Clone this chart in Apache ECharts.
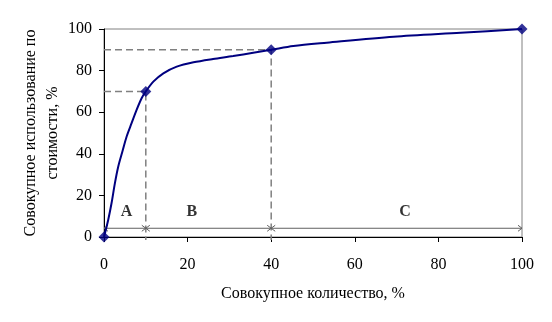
<!DOCTYPE html>
<html>
<head>
<meta charset="utf-8">
<script src="https://cdn.jsdelivr.net/npm/echarts@6/dist/echarts.min.js"></script>
<style>
  html, body { margin: 0; padding: 0; background: #fff; }
  #chart { width: 552px; height: 322px; }
</style>
</head>
<body>
<div id="chart"></div>
<script>
// Cumulative ABC curve traced through intermediate readings
const curveX = [0, 1.0, 1.8, 2.6, 3.4, 4.5, 5.4, 6.6, 7.8, 9.0, 10, 11.8, 14.2, 17.4, 21.4, 26.1, 30.9, 35.7, 40, 45.3, 53.3, 69.3, 85.3, 100];
const curveY = [0, 8.2, 16.2, 25.8, 33.8, 41.8, 48.2, 54.7, 61.1, 66.7, 70, 74.7, 78.7, 81.9, 84.0, 85.6, 87.0, 88.6, 90, 91.8, 93.4, 96.3, 98.2, 100];

// Key points marked on the curve
const keyX = [0, 10, 40, 100];
const keyY = [0, 70, 90, 100];

// Zone boundaries and their names
const zoneEdges = [0, 10, 40, 100];
const zoneNames = ['A', 'B', 'C'];
const zoneLabelX = [5.4, 21, 72];
const zoneLabelY = 11.9;
const zoneArrowY = 4.2;

const axisTicks = [0, 20, 40, 60, 80, 100];

const FONT = '"Liberation Serif", "Times New Roman", serif';
const NAVY = '#000080';
const FS = 16;

// Dashed guides from the axes to the zone boundary points
const guideSeries = [1, 2].map(i => ({
  type: 'line',
  data: [[0, keyY[i]], [keyX[i], keyY[i]], [keyX[i], -1.5]],
  showSymbol: false,
  clip: false,
  silent: true,
  z: 1,
  lineStyle: { color: '#808080', width: 1.5, type: [7, 4] }
}));

// Double-headed arrows spanning each zone
const arrowData = zoneNames.map((n, i) => [zoneEdges[i], zoneEdges[i + 1], zoneArrowY]);

const chart = echarts.init(document.getElementById('chart'), null, { renderer: 'canvas' });
chart.setOption({
  animation: false,
  backgroundColor: '#fff',
  textStyle: { fontFamily: FONT },
  grid: {
    left: 104, right: 30, top: 29, bottom: 85,
    show: true, borderColor: '#808080', borderWidth: 1
  },
  xAxis: {
    type: 'value', min: axisTicks[0], max: axisTicks[axisTicks.length - 1], interval: 20,
    name: 'Совокупное количество, %',
    nameLocation: 'middle', nameGap: 49, nameMoveOverlap: false,
    nameTextStyle: { fontFamily: FONT, fontSize: FS, color: '#000' },
    axisLine: { show: true, lineStyle: { color: '#000', width: 1 } },
    axisTick: { show: true, length: 5, lineStyle: { color: '#000' } },
    axisLabel: { margin: 20, fontFamily: FONT, fontSize: FS, color: '#000' },
    splitLine: { show: false }
  },
  yAxis: {
    type: 'value', min: axisTicks[0], max: axisTicks[axisTicks.length - 1], interval: 20,
    name: 'Совокупное использование по\nстоимости, %',
    nameLocation: 'middle', nameGap: 40, nameRotate: 90, nameMoveOverlap: false,
    nameTextStyle: { fontFamily: FONT, fontSize: FS, color: '#000', lineHeight: 22, align: 'center' },
    axisLine: { show: true, lineStyle: { color: '#000', width: 1 } },
    axisTick: { show: true, length: 5, lineStyle: { color: '#000' } },
    axisLabel: { margin: 12, fontFamily: FONT, fontSize: FS, color: '#000' },
    splitLine: { show: false }
  },
  series: [
    ...guideSeries,
    {
      type: 'custom',
      silent: true,
      z: 2,
      data: arrowData,
      renderItem: function (params, api) {
        const a = api.coord([api.value(0), api.value(2)]);
        const b = api.coord([api.value(1), api.value(2)]);
        const style = { stroke: '#606060', lineWidth: 1, fill: null };
        const h = 4, w = 3;
        return {
          type: 'group',
          children: [
            { type: 'line', shape: { x1: a[0], y1: a[1], x2: b[0], y2: b[1] }, style: style },
            { type: 'polyline', shape: { points: [[a[0] + h, a[1] - w], [a[0], a[1]], [a[0] + h, a[1] + w]] }, style: style },
            { type: 'polyline', shape: { points: [[b[0] - h, b[1] - w], [b[0], b[1]], [b[0] - h, b[1] + w]] }, style: style }
          ]
        };
      }
    },
    {
      type: 'scatter',
      silent: true,
      symbolSize: 0,
      data: zoneNames.map((n, i) => ({ value: [zoneLabelX[i], zoneLabelY], name: n })),
      label: {
        show: true, position: 'inside', formatter: '{b}',
        fontFamily: FONT, fontSize: FS, fontWeight: 'bold', color: '#000'
      }
    },
    {
      type: 'line',
      data: curveX.map((x, i) => [x, curveY[i]]),
      smooth: 0.3,
      showSymbol: false,
      silent: true,
      z: 3,
      lineStyle: { color: NAVY, width: 2 }
    },
    {
      type: 'scatter',
      data: keyX.map((x, i) => [x, keyY[i]]),
      symbol: 'diamond',
      symbolSize: 11,
      clip: false,
      z: 4,
      itemStyle: { color: NAVY }
    }
  ]
});
</script>
</body>
</html>
